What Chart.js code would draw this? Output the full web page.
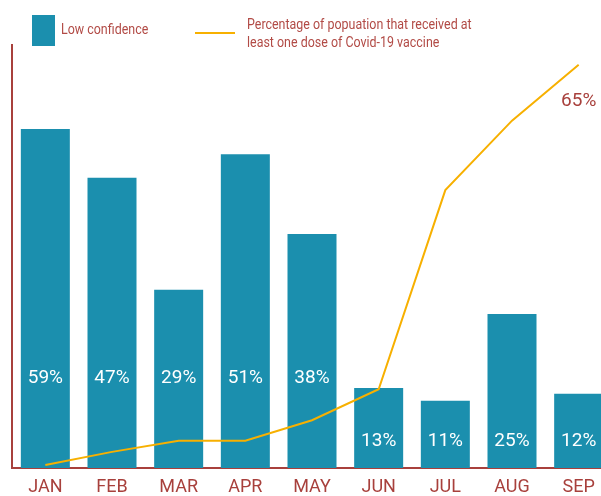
<!DOCTYPE html>
<html>
<head>
<meta charset="utf-8">
<script src="https://cdn.jsdelivr.net/npm/chart.js@4.4.1/dist/chart.umd.min.js"></script>
<style>
    html, body { margin: 0; padding: 0; overflow: hidden; background: #fff; }
    #wrap { position: relative; width: 612px; height: 496px; font-family: Roboto, sans-serif; }
    .legend-box { position: absolute; left: 32px; top: 15px; width: 23px; height: 31px; background: #1b8fae; }
    .legend-line { position: absolute; left: 195px; top: 32px; width: 40px; height: 2px; background: #f7b000; }
    .legend-text { position: absolute; color: #b24b46; font-size: 15px; line-height: 18px; white-space: nowrap;
                   transform: scaleX(0.83); transform-origin: left top; }
</style>
</head>
<body>
<div id="wrap">
    <canvas id="chart" width="612" height="496"></canvas>
    <div class="legend-box"></div>
    <div class="legend-text" style="left:61px; top:20px;">Low confidence</div>
    <div class="legend-line"></div>
    <div class="legend-text" style="left:247px; top:15px;">Percentage of popuation that received at<br>least one dose of Covid-19 vaccine</div>
</div>
<script>
// 월별 데이터
const months = ['JAN', 'FEB', 'MAR', 'APR', 'MAY', 'JUN', 'JUL', 'AUG', 'SEP'];
// 막대 높이
const confidenceBars = [59, 50.5, 31, 54.6, 40.7, 13.9, 11.7, 26.8, 12.9];
// 막대 안에 표시되는 라벨
const confidenceLabels = ['59%', '47%', '29%', '51%', '38%', '13%', '11%', '25%', '12%'];
// 백신 접종률 선
const vaccinated = [0.5, 2.6, 4.4, 4.4, 7.7, 12.7, 44.8, 56, 65];
const lastLabel = '65%';

const darkRed = '#a8403c';

// 막대 라벨 + 마지막 점 라벨 그리기
const labelPlugin = {
    id: 'labelPlugin',
    afterDatasetsDraw(chart) {
        const ctx = chart.ctx;
        const base = chart.scales.y.getPixelForValue(0);
        ctx.save();
        ctx.textAlign = 'center';
        ctx.textBaseline = 'middle';
        ctx.font = '19px Roboto';
        ctx.fillStyle = '#ffffff';
        chart.getDatasetMeta(1).data.forEach(function (bar, i) {
            const tall = (base - bar.y) > 165;
            ctx.fillText(confidenceLabels[i], bar.x, tall ? base - 90 : base - 27);
        });
        const pts = chart.getDatasetMeta(0).data;
        const last = pts[pts.length - 1];
        ctx.fillStyle = darkRed;
        ctx.fillText(lastLabel, last.x, last.y + 36);
        ctx.restore();
    }
};

const ctx = document.getElementById('chart').getContext('2d');
window.myChart = new Chart(ctx, {
    type: 'bar',
    data: {
        labels: months,
        datasets: [{
            type: 'line',
            label: 'Percentage of popuation that received at least one dose of Covid-19 vaccine',
            data: vaccinated,
            borderColor: '#f7b000',
            borderWidth: 2,
            pointRadius: 0,
            tension: 0,
            yAxisID: 'y1',
            order: 0
        }, {
            label: 'Low confidence',
            data: confidenceBars,
            backgroundColor: '#1b8fae',
            barPercentage: 0.735,
            categoryPercentage: 1,
            yAxisID: 'y',
            order: 1
        }]
    },
    options: {
        responsive: false,
        animation: false,
        layout: { padding: { left: 12, top: 45, right: 0, bottom: 0 } },
        plugins: {
            legend: { display: false },
            tooltip: { enabled: false }
        },
        scales: {
            x: {
                grid: { display: false, drawTicks: false },
                border: { display: true, color: darkRed, width: 2 },
                ticks: { color: darkRed, font: { family: 'Roboto', size: 18 }, padding: 9 },
                afterFit: function (s) { s.height = 28; }
            },
            y: {
                min: 0,
                max: 73.6,
                grid: { display: false, drawTicks: false },
                border: { display: true, color: darkRed, width: 2 },
                ticks: { display: false },
                afterFit: function (s) { s.width = 0; }
            },
            y1: {
                display: false,
                min: 0,
                max: 68.2
            }
        }
    },
    plugins: [labelPlugin]
});
</script>
</body>
</html>
